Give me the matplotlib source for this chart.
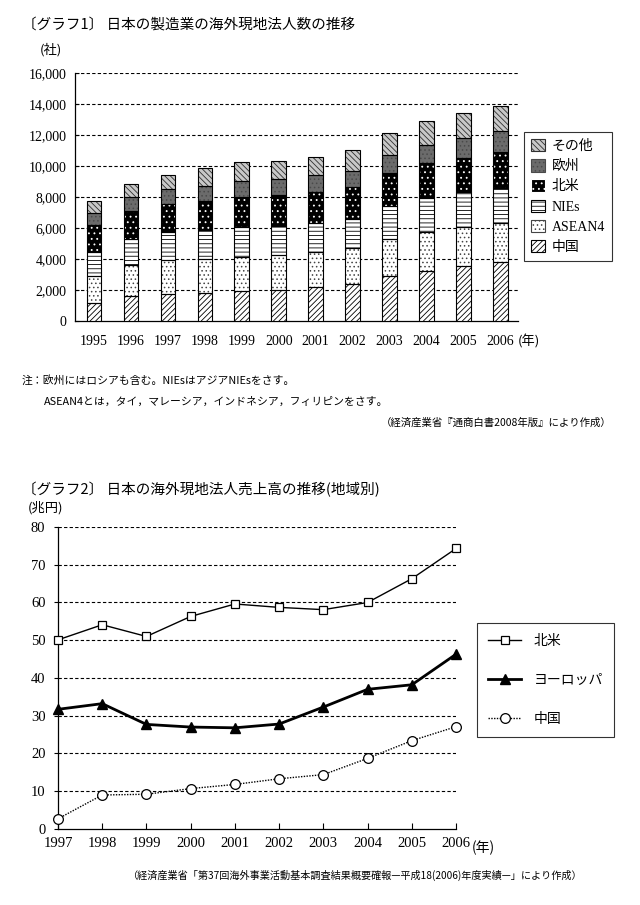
import matplotlib
matplotlib.use('Agg')
import matplotlib.pyplot as plt
from matplotlib.patches import Patch

plt.rcParams['font.family'] = ['Liberation Serif', 'Noto Sans CJK JP', 'DejaVu Sans']
plt.rcParams['hatch.linewidth'] = 0.6
JP = ['Noto Sans CJK JP', 'DejaVu Sans']

# Graph 1: number of overseas subsidiaries (companies)
years1 = ['1995', '1996', '1997', '1998', '1999', '2000',
          '2001', '2002', '2003', '2004', '2005', '2006']
china1 = [1150, 1620, 1770, 1830, 1940, 2030, 2180, 2390, 2910, 3230, 3560, 3810]
asean4 = [1740, 2000, 2170, 2180, 2220, 2240, 2260, 2310, 2390, 2500, 2540, 2530]
nies = [1590, 1720, 1790, 1870, 1940, 1870, 1920, 1870, 2160, 2240, 2220, 2240]
namerica1 = [1720, 1770, 1810, 1860, 1900, 1980, 1960, 2120, 2090, 2220, 2240, 2370]
europe1 = [760, 910, 970, 990, 1050, 1060, 1100, 1030, 1160, 1190, 1290, 1330]
other1 = [800, 840, 950, 1140, 1210, 1160, 1200, 1340, 1470, 1530, 1580, 1620]
yticks1 = [0, 2000, 4000, 6000, 8000, 10000, 12000, 14000, 16000]

# Graph 2: sales of overseas subsidiaries (trillion yen)
years2 = [1997, 1998, 1999, 2000, 2001, 2002, 2003, 2004, 2005, 2006]
namerica2 = [50.1, 54.1, 51.0, 56.3, 59.6, 58.7, 58.1, 60.0, 66.3, 74.3]
europe2 = [31.7, 33.2, 27.7, 27.0, 26.8, 27.8, 32.3, 37.0, 38.2, 46.3]
china2 = [2.7, 9.0, 9.2, 10.7, 11.8, 13.3, 14.4, 18.7, 23.4, 27.1]

fig = plt.figure(figsize=(6.4, 9.05), dpi=100)

# ---------------- Graph 1 ----------------
ax1 = fig.add_axes([0.117, 0.645, 0.692, 0.274])
x = list(range(len(years1)))
w = 0.4
styles = [
    ('中国', china1, dict(facecolor='white', edgecolor='black', hatch='//////')),
    ('ASEAN4', asean4, dict(facecolor='white', edgecolor='#444444', hatch='....')),
    ('NIEs', nies, dict(facecolor='white', edgecolor='black', hatch='----')),
    ('北米', namerica1, dict(facecolor='black', edgecolor='white', hatch='...')),
    ('欧州', europe1, dict(facecolor='#6b6b6b', edgecolor='#4a4a4a', hatch='....')),
    ('その他', other1, dict(facecolor='#c8c8c8', edgecolor='#303030', hatch='\\\\\\\\\\\\')),
]
bottom = [0] * len(x)
handles = []
for name, vals, st in styles:
    ax1.bar(x, vals, w, bottom=bottom, linewidth=0, zorder=3, **st)
    ax1.bar(x, vals, w, bottom=bottom, fill=False, edgecolor='black',
            linewidth=0.8, zorder=4)
    handles.append(Patch(linewidth=0.8, label=name, **st))
    bottom = [b + v for b, v in zip(bottom, vals)]

ax1.set_xlim(-0.52, 11.47)
ax1.set_ylim(0, 16000)
ax1.set_yticks(yticks1)
ax1.set_yticklabels([f'{v:,}' for v in yticks1], fontsize=10)
ax1.set_xticks(x)
ax1.set_xticklabels(years1, fontsize=10)
ax1.tick_params(axis='x', length=0, pad=10)
ax1.tick_params(axis='y', length=3, direction='in', pad=6)
for v in yticks1[1:]:
    ax1.axhline(v, color='black', linestyle=(0, (3, 2)), linewidth=0.8, zorder=1)
for s in ['top', 'right']:
    ax1.spines[s].set_visible(False)
ax1.spines['left'].set_linewidth(0.9)
ax1.spines['bottom'].set_linewidth(0.9)

leg1 = fig.legend(handles=handles[::-1], loc='upper left',
                  bbox_to_anchor=(524 / 640, 1 - 132 / 905), borderaxespad=0,
                  handlelength=1.0, handleheight=1.0, handletextpad=0.5,
                  labelspacing=0.45, fontsize=10, frameon=True, fancybox=False,
                  edgecolor='black', borderpad=0.5)
leg1.get_frame().set_linewidth(0.8)

fig.text(22 / 640, 1 - 26 / 905, '〔グラフ1〕 日本の製造業の海外現地法人数の推移',
         family=JP, fontsize=10.5, va='center', ha='left')
fig.text(40 / 640, 1 - 50 / 905, '(社)', family=JP, fontsize=9.5, va='center')
fig.text(518 / 640, 1 - 342 / 905, '(年)', family=JP, fontsize=9.5, va='center')
fig.text(22 / 640, 1 - 380 / 905, '注：欧州にはロシアも含む。NIEsはアジアNIEsをさす。',
         family=JP, fontsize=7.8, va='center')
fig.text(44 / 640, 1 - 402 / 905, 'ASEAN4とは，タイ，マレーシア，インドネシア，フィリピンをさす。',
         family=JP, fontsize=7.8, va='center')
fig.text(612 / 640, 1 - 423 / 905, '（経済産業省『通商白書2008年版』により作成）',
         family=JP, fontsize=7.5, va='center', ha='right')

# ---------------- Graph 2 ----------------
ax2 = fig.add_axes([0.0906, 0.084, 0.622, 0.3337])
l1, = ax2.plot(years2, namerica2, color='black', linewidth=1.0, marker='s',
               markersize=5.5, markerfacecolor='white', markeredgecolor='black',
               markeredgewidth=0.9, clip_on=False, zorder=4, label='北米')
l2, = ax2.plot(years2, europe2, color='black', linewidth=2.0, marker='^',
               markersize=7, markerfacecolor='black', clip_on=False, zorder=4,
               label='ヨーロッパ')
l3, = ax2.plot(years2, china2, color='black', linewidth=1.0, linestyle=(0, (1, 1)),
               marker='o', markersize=7, markerfacecolor='white', markeredgecolor='black',
               markeredgewidth=0.9, clip_on=False, zorder=4, label='中国')

ax2.set_xlim(1997, 2006)
ax2.set_ylim(0, 80)
ax2.set_yticks(range(0, 81, 10))
ax2.set_xticks(years2)
ax2.set_xticklabels([str(y) for y in years2], fontsize=10.5)
ax2.set_yticklabels([str(v) for v in range(0, 81, 10)], fontsize=10.5)
ax2.tick_params(axis='x', length=4, direction='in', pad=6)
ax2.tick_params(axis='y', length=3, direction='out', pad=6)
for v in range(10, 81, 10):
    ax2.axhline(v, color='black', linestyle=(0, (3, 2)), linewidth=0.8, zorder=1)
for s in ['top', 'right']:
    ax2.spines[s].set_visible(False)
ax2.spines['left'].set_linewidth(0.9)
ax2.spines['bottom'].set_linewidth(0.9)

leg2 = fig.legend(handles=[l1, l2, l3], loc='upper left',
                  bbox_to_anchor=(477 / 640, 1 - 623 / 905), borderaxespad=0,
                  handlelength=2.4, handletextpad=0.9, labelspacing=1.8,
                  fontsize=10, frameon=True, fancybox=False, edgecolor='black',
                  borderpad=0.8)
leg2.get_frame().set_linewidth(0.8)
for t in leg2.get_texts():
    t.set_family(JP)

fig.text(22 / 640, 1 - 490 / 905, '〔グラフ2〕 日本の海外現地法人売上高の推移(地域別)',
         family=JP, fontsize=10.5, va='center', ha='left')
fig.text(28 / 640, 1 - 508 / 905, '(兆円)', family=JP, fontsize=9.5, va='center')
fig.text(472 / 640, 1 - 848 / 905, '(年)', family=JP, fontsize=10, va='center')
fig.text(355 / 640, 1 - 875 / 905,
         '（経済産業省「第37回海外事業活動基本調査結果概要確報—平成18(2006)年度実績—」により作成）',
         family=JP, fontsize=7.3, va='center', ha='center')

fig.savefig('out.png', dpi=100, facecolor='white')
